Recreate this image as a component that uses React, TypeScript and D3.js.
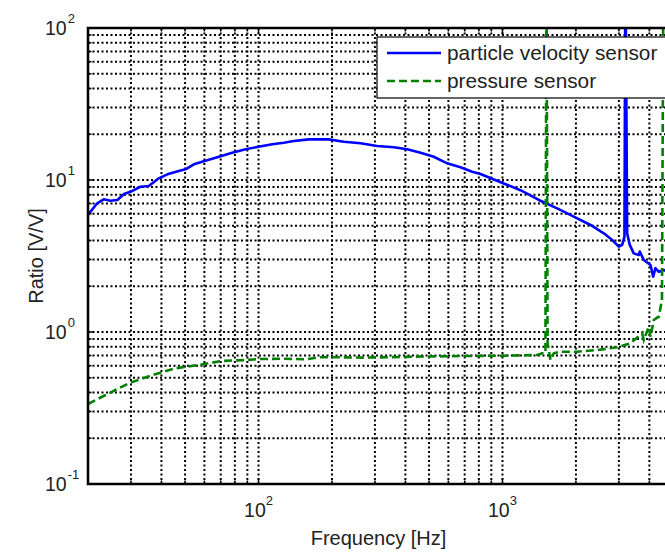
import React, { useEffect, useRef } from 'react';
import * as d3 from 'd3';

// particle velocity sensor (blue, solid)
const pvFreq = [20, 21.8, 23.2, 24.7, 26.4, 28.1, 30.4, 32.8, 35.5, 39, 42.3, 47.1, 50.2, 54.3, 60.6, 68.8, 78, 88.5, 100, 113.8, 127, 139.5, 160.7, 194, 223.7, 261.8, 306.5, 358.5, 406.8, 461.3, 522.9, 593.4, 672.8, 751.3, 812.6, 1000, 1185, 1409, 1676, 1960, 2295, 2602, 2817, 2997, 3094, 3162, 3192, 3244, 3324, 3452, 3619, 3653, 3795, 4044, 4147, 4236, 4371, 4581, 5000];
const pvRatio = [5.89, 7.03, 7.46, 7.31, 7.39, 8.09, 8.47, 9.03, 9.13, 10.26, 10.9, 11.46, 11.76, 12.69, 13.4, 14.23, 15.12, 15.92, 16.56, 17.18, 17.6, 18.06, 18.5, 18.5, 17.87, 17.43, 16.74, 16.41, 15.92, 15.12, 14.23, 12.88, 12.12, 11.34, 10.95, 9.56, 8.57, 7.39, 6.51, 5.74, 5.06, 4.46, 4.03, 3.64, 3.74, 4.24, 300, 4.46, 3.74, 3.29, 3.21, 3.38, 2.98, 2.76, 2.31, 2.63, 2.49, 2.56, 2.4];

// pressure sensor (green, dashed)
const psFreq = [20, 23.6, 29.4, 36.7, 45.7, 56.9, 71, 88.5, 100, 129, 155.8, 176.6, 206.8, 270, 433, 694, 1012, 1388, 1455, 1500, 1515, 1530, 1573, 1623, 1729, 2024, 2444, 2952, 3346, 3736, 3795, 3978, 4044, 4170, 4371, 4506, 4570];
const psRatio = [0.336, 0.385, 0.46, 0.521, 0.577, 0.607, 0.645, 0.654, 0.664, 0.667, 0.661, 0.682, 0.682, 0.678, 0.688, 0.695, 0.698, 0.706, 0.724, 0.727, 300, 0.843, 0.654, 0.724, 0.742, 0.742, 0.761, 0.793, 0.843, 0.98, 0.886, 1.083, 0.931, 1.199, 1.261, 1.624, 300];

const xLabelTicks = [100, 1000];
const yLabelTicks = [0.1, 1, 10, 100];
const legendNames = ['particle velocity sensor', 'pressure sensor'];

const App = () => {
    const ref = useRef(null);

    useEffect(() => {
        drawChart();
    }, []);

    const drawChart = () => {
        const W = 665, H = 552;
        const left = 88, top = 28, right = 673, bottom = 484;
        const font = 'Liberation Sans, Arial, Helvetica, sans-serif';

        const svg = d3.select(ref.current);
        svg.selectAll('*').remove();
        svg.attr('width', W).attr('height', H);

        svg.append('rect').attr('width', W).attr('height', H).style('fill', 'white');

        const x = d3.scaleLog().domain([20, 5000]).range([left, right]);
        const y = d3.scaleLog().domain([0.1, 100]).range([bottom, top]);

        // dotted grid, major and minor
        const grid = svg.append('g')
            .attr('stroke', 'black')
            .attr('stroke-width', 2)
            .attr('stroke-dasharray', '2,2.5');
        x.ticks().forEach(t => {
            grid.append('line').attr('x1', x(t)).attr('x2', x(t)).attr('y1', top).attr('y2', bottom);
        });
        y.ticks().forEach(t => {
            grid.append('line').attr('x1', left).attr('x2', right).attr('y1', y(t)).attr('y2', y(t));
        });

        svg.append('clipPath').attr('id', 'plotclip')
            .append('rect').attr('x', left).attr('y', top)
            .attr('width', right - left).attr('height', bottom - top);

        const line = d3.line()
            .x(d => x(d[0]))
            .y(d => y(d[1]));

        svg.append('path')
            .datum(pvFreq.map((f, i) => [f, pvRatio[i]]))
            .attr('clip-path', 'url(#plotclip)')
            .attr('d', line)
            .attr('fill', 'none')
            .attr('stroke', '#0000ff')
            .attr('stroke-width', 2.6)
            .attr('stroke-linejoin', 'round');

        svg.append('path')
            .datum(psFreq.map((f, i) => [f, psRatio[i]]))
            .attr('clip-path', 'url(#plotclip)')
            .attr('d', line)
            .attr('fill', 'none')
            .attr('stroke', '#008000')
            .attr('stroke-width', 2.6)
            .attr('stroke-dasharray', '8,4');

        // box and inner ticks
        svg.append('rect')
            .attr('x', left).attr('y', top)
            .attr('width', right - left).attr('height', bottom - top)
            .attr('fill', 'none').attr('stroke', 'black').attr('stroke-width', 2.5);

        const ticks = svg.append('g').attr('stroke', 'black').attr('stroke-width', 1.5);
        x.ticks().forEach(t => {
            const len = xLabelTicks.includes(t) ? 6 : 3.5;
            ticks.append('line').attr('x1', x(t)).attr('x2', x(t)).attr('y1', bottom).attr('y2', bottom - len);
            ticks.append('line').attr('x1', x(t)).attr('x2', x(t)).attr('y1', top).attr('y2', top + len);
        });
        y.ticks().forEach(t => {
            const len = yLabelTicks.includes(t) ? 6 : 3.5;
            ticks.append('line').attr('x1', left).attr('x2', left + len).attr('y1', y(t)).attr('y2', y(t));
            ticks.append('line').attr('x1', right).attr('x2', right - len).attr('y1', y(t)).attr('y2', y(t));
        });

        // tick labels with superscript exponents
        xLabelTicks.forEach(t => {
            const tx = svg.append('text')
                .attr('x', x(t)).attr('y', bottom + 33)
                .attr('text-anchor', 'middle')
                .style('font-family', font).style('font-size', '19.5px').attr('fill', '#222');
            tx.append('tspan').text('10');
            tx.append('tspan').attr('dy', -12).style('font-size', '13px').text(String(Math.round(Math.log10(t))));
        });
        yLabelTicks.forEach(t => {
            const tx = svg.append('text')
                .attr('x', 45).attr('y', y(t) + 7)
                .style('font-family', font).style('font-size', '19.5px').attr('fill', '#222');
            tx.append('tspan').text('10');
            tx.append('tspan').attr('dx', 1).attr('dy', -12).style('font-size', '13px').text(String(Math.round(Math.log10(t))));
        });

        svg.append('text')
            .attr('x', (left + right) / 2 - 2).attr('y', 545)
            .attr('text-anchor', 'middle')
            .style('font-family', font).style('font-size', '20px').attr('fill', '#222')
            .text('Frequency [Hz]');

        svg.append('text')
            .attr('transform', 'translate(43,' + (top + bottom) / 2 + ') rotate(-90)')
            .attr('text-anchor', 'middle')
            .style('font-family', font).style('font-size', '20px').attr('fill', '#222')
            .text('Ratio [V/V]');

        // legend
        const lg = svg.append('g');
        lg.append('rect')
            .attr('x', 377).attr('y', 37).attr('width', 320).attr('height', 61)
            .attr('fill', 'white').attr('stroke', 'black').attr('stroke-width', 1.2);
        const colors = ['#0000ff', '#008000'];
        const dashes = [null, '8,4'];
        legendNames.forEach((name, i) => {
            const ly = 53 + i * 28;
            lg.append('line')
                .attr('x1', 387).attr('x2', 441).attr('y1', ly).attr('y2', ly)
                .attr('stroke', colors[i]).attr('stroke-width', 2.6)
                .attr('stroke-dasharray', dashes[i]);
            lg.append('text')
                .attr('x', 447).attr('y', ly + 7)
                .style('font-family', font).style('font-size', '20.8px').attr('fill', '#222')
                .text(name);
        });
    };

    return <svg ref={ref} style={{ position: 'absolute', left: 0, top: 0 }}></svg>;
};

export default App;
